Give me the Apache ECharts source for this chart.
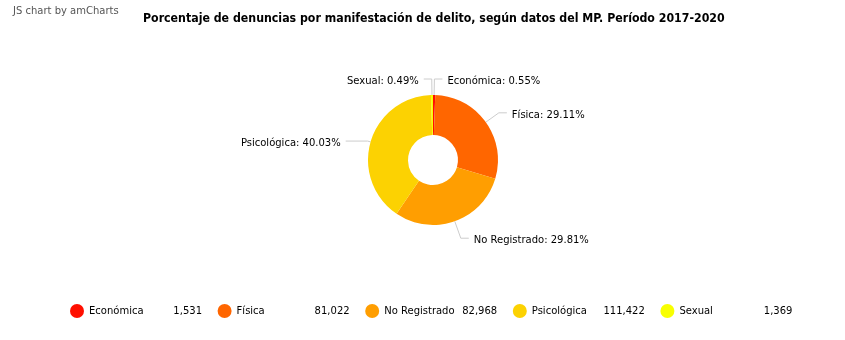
<!DOCTYPE html>
<html><head><meta charset="utf-8">
<script src="https://cdn.jsdelivr.net/npm/echarts@6/dist/echarts.min.js"></script>
<style>html,body{margin:0;padding:0;background:#fff}#c{width:845px;height:340px}</style>
</head><body><div id="c"></div>
<script>
const categories = ["Económica", "Física", "No Registrado", "Psicológica", "Sexual"];
const values = [1531, 81022, 82968, 111422, 1369];
const colors = ["#FF0F00", "#FF6600", "#FF9E01", "#FCD202", "#F8FF01"];
const titleText = "Porcentaje de denuncias por manifestación de delito, según datos del MP. Período 2017-2020";

const total = values.reduce((a, b) => a + b, 0);
const fmt = v => v.toLocaleString('en-US');
const FONT = 'DejaVu Sans';

// per-slice label line styling (layout only)
const lineStyleFor = {
  "Psicológica": {length: 3, length2: 22},
  "No Registrado": {length: 18, length2: 8}
};

const chart = echarts.init(document.getElementById('c'), null, {renderer: 'canvas'});
chart.setOption({
  animation: false,
  color: colors,
  title: {
    text: titleText, left: 138, top: 8,
    textStyle: {fontFamily: 'DejaVu Sans Condensed', fontSize: 12.25, fontWeight: 'bold', color: '#000'}
  },
  graphic: [{
    type: 'text', left: 13, top: 6,
    style: {text: 'JS chart by amCharts', fill: '#555', font: '10px DejaVu Sans'}
  }],
  legend: {
    bottom: 17, left: 65, itemGap: 15.6, itemWidth: 14, itemHeight: 14, icon: 'circle',
    data: categories,
    formatter: name => {
      const v = values[categories.indexOf(name)];
      return '{n|' + name + '}{v|' + fmt(v) + '}';
    },
    textStyle: {
      fontFamily: FONT, fontSize: 10, color: '#000',
      rich: {
        n: {fontFamily: FONT, fontSize: 10, width: 72, color: '#000'},
        v: {fontFamily: FONT, fontSize: 10, width: 41, align: 'right', color: '#000'}
      }
    }
  },
  series: [{
    type: 'pie',
    center: [433, 160],
    radius: [25, 65],
    startAngle: 90,
    clockwise: true,
    data: categories.map((c, i) => {
      const d = {name: c, value: values[i]};
      if (lineStyleFor[c]) d.labelLine = lineStyleFor[c];
      return d;
    }),
    itemStyle: {borderColor: '#fff', borderWidth: 0},
    label: {
      color: '#000',
      formatter: p => '{t|' + p.name + ': ' + (p.value / total * 100).toFixed(2) + '%}',
      rich: {t: {fontFamily: FONT, fontSize: 10, color: '#000', padding: [5, 0, 0, 0]}}
    },
    labelLine: {length: 16, length2: 8, lineStyle: {color: '#ccc', width: 1}},
    emphasis: {disabled: true}
  }]
});
</script></body></html>
